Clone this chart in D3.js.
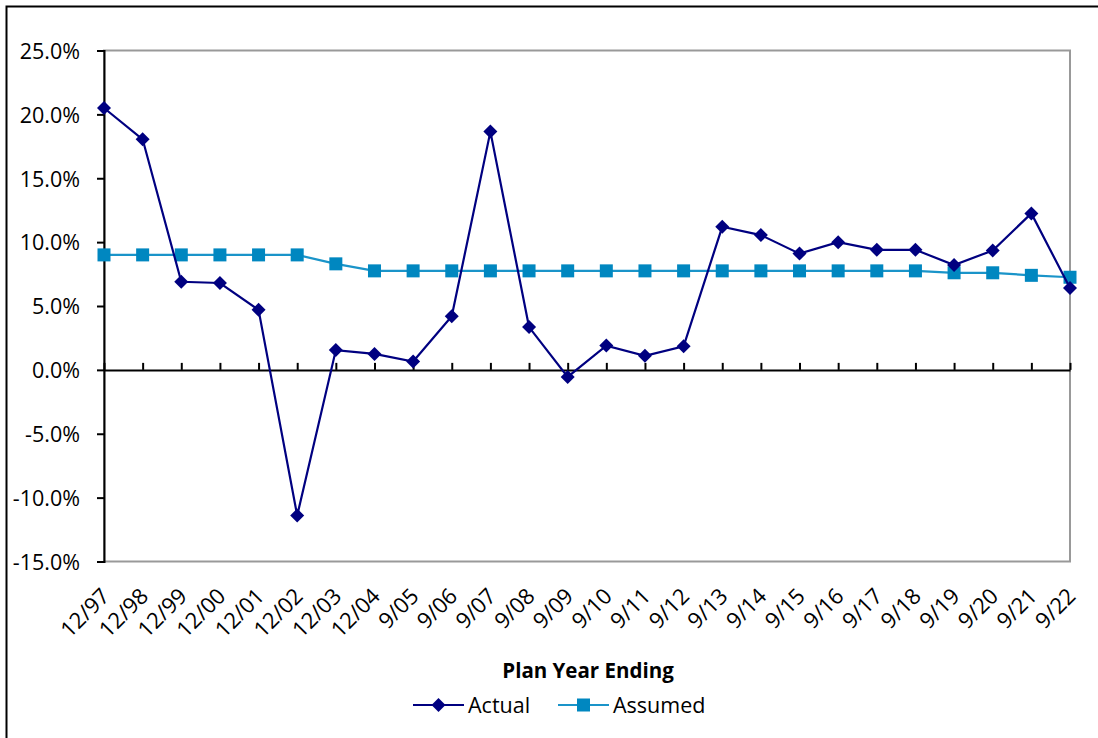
<!DOCTYPE html>
<html>
<head>
<meta charset="utf-8">
<script src="https://cdn.jsdelivr.net/npm/d3@7"></script>
<style>
  html, body { margin: 0; padding: 0; background: #fff; }
  svg { display: block; }
  text { font-family: "Open Sans", sans-serif; fill: #000; }
</style>
</head>
<body>
<svg id="chart" width="1098" height="738"></svg>
<script>
// Plan year end labels
const categories = ["12/97","12/98","12/99","12/00","12/01","12/02","12/03","12/04",
  "9/05","9/06","9/07","9/08","9/09","9/10","9/11","9/12","9/13","9/14","9/15",
  "9/16","9/17","9/18","9/19","9/20","9/21","9/22"];

// Actual investment return (%)
const actual = [20.5, 18.05, 6.9, 6.8, 4.7, -11.4, 1.55, 1.25, 0.65, 4.2, 18.65, 3.35,
  -0.55, 1.9, 1.1, 1.85, 11.2, 10.55, 9.1, 10.0, 9.4, 9.4, 8.2, 9.35, 12.25, 6.4];

// Assumed rate of return (%)
const assumed = [9.0, 9.0, 9.0, 9.0, 9.0, 9.0, 8.3, 7.75, 7.75, 7.75, 7.75, 7.75,
  7.75, 7.75, 7.75, 7.75, 7.75, 7.75, 7.75, 7.75, 7.75, 7.75, 7.6, 7.6, 7.4, 7.25];

const yTicks = [-15, -10, -5, 0, 5, 10, 15, 20, 25];
const seriesNames = ["Actual", "Assumed"];
const axisTitle = "Plan Year Ending";

const colActual = "#000080";
const colAssumed = "#0087C0";
const colAssumedLine = "#1A94C9";

const svg = d3.select("#chart");

// outer chart frame (extends past the right and bottom edges)
svg.append("rect")
  .attr("x", 6.5).attr("y", 6.5)
  .attr("width", 1200).attr("height", 800)
  .attr("fill", "none").attr("stroke", "#000").attr("stroke-width", 2);

const plotL = 104, plotR = 1070, plotT = 50.5, plotB = 561.5;

const x = d3.scalePoint().domain(categories).range([plotL, plotR]);
const y = d3.scaleLinear().domain([-15, 25]).range([plotB, plotT]);

// percent labels with a plain hyphen for negatives
const pct = d => (d < 0 ? "-" : "") + Math.abs(d).toFixed(1) + "%";

// plot area border (gray)
svg.append("rect")
  .attr("x", plotL).attr("y", plotT)
  .attr("width", plotR - plotL).attr("height", plotB - plotT)
  .attr("fill", "none").attr("stroke", "#999").attr("stroke-width", 2);

// y axis
const yAxis = svg.append("g")
  .attr("transform", `translate(${plotL},0)`)
  .call(d3.axisLeft(y).tickValues(yTicks).tickSize(7).tickPadding(17).tickFormat(pct));
yAxis.select(".domain").attr("stroke", "#000").attr("stroke-width", 2);
yAxis.selectAll(".tick line").attr("stroke", "#000").attr("stroke-width", 2);
yAxis.selectAll(".tick text").attr("font-size", 21.5).attr("fill", "#000")
  .attr("font-family", "Open Sans, sans-serif").attr("dy", "0.36em");

// zero line with category ticks pointing up
const xAxis = svg.append("g")
  .attr("transform", `translate(0,${y(0)})`)
  .call(d3.axisTop(x).tickSizeInner(7).tickSizeOuter(0).tickFormat(""));
xAxis.select(".domain").attr("stroke", "#000").attr("stroke-width", 2);
xAxis.selectAll(".tick line").attr("stroke", "#000").attr("stroke-width", 2);

// category labels along the bottom, rotated
svg.append("g").selectAll("text")
  .data(categories)
  .join("text")
  .attr("transform", d => `translate(${x(d) + 7},${plotB + 36}) rotate(-45)`)
  .attr("text-anchor", "end")
  .attr("font-size", 22)
  .text(d => d);

// axis title
svg.append("text")
  .attr("x", 588).attr("y", 678)
  .attr("text-anchor", "middle")
  .attr("font-size", 20.5).attr("font-weight", "bold")
  .text(axisTitle);

const line = d3.line().x((d, i) => x(categories[i])).y(d => y(d));

// assumed series
svg.append("path").datum(assumed)
  .attr("d", line).attr("fill", "none")
  .attr("stroke", colAssumedLine).attr("stroke-width", 2.2);
svg.append("g").selectAll("rect")
  .data(assumed)
  .join("rect")
  .attr("x", (d, i) => x(categories[i]) - 6.5)
  .attr("y", d => y(d) - 6.5)
  .attr("width", 13).attr("height", 13)
  .attr("fill", colAssumed);

// actual series
svg.append("path").datum(actual)
  .attr("d", line).attr("fill", "none")
  .attr("stroke", colActual).attr("stroke-width", 2.2);
const diamond = "M0,-7L7,0L0,7L-7,0Z";
svg.append("g").selectAll("path")
  .data(actual)
  .join("path")
  .attr("d", diamond)
  .attr("transform", (d, i) => `translate(${x(categories[i])},${y(d)})`)
  .attr("fill", colActual);

// legend
const legend = svg.append("g");
const lg = [
  { name: seriesNames[0], x0: 413, color: colActual, lineColor: colActual, shape: "diamond" },
  { name: seriesNames[1], x0: 558, color: colAssumed, lineColor: colAssumedLine, shape: "square" }
];
lg.forEach(item => {
  const ly = 705;
  legend.append("line")
    .attr("x1", item.x0).attr("x2", item.x0 + 51)
    .attr("y1", ly).attr("y2", ly)
    .attr("stroke", item.lineColor).attr("stroke-width", 2.2);
  if (item.shape === "diamond") {
    legend.append("path").attr("d", diamond)
      .attr("transform", `translate(${item.x0 + 25.5},${ly})`)
      .attr("fill", item.color);
  } else {
    legend.append("rect")
      .attr("x", item.x0 + 25.5 - 6.5).attr("y", ly - 6.5)
      .attr("width", 13).attr("height", 13).attr("fill", item.color);
  }
  legend.append("text")
    .attr("x", item.x0 + 55).attr("y", ly + 8)
    .attr("font-size", 21.5)
    .text(item.name);
});
</script>
</body>
</html>
